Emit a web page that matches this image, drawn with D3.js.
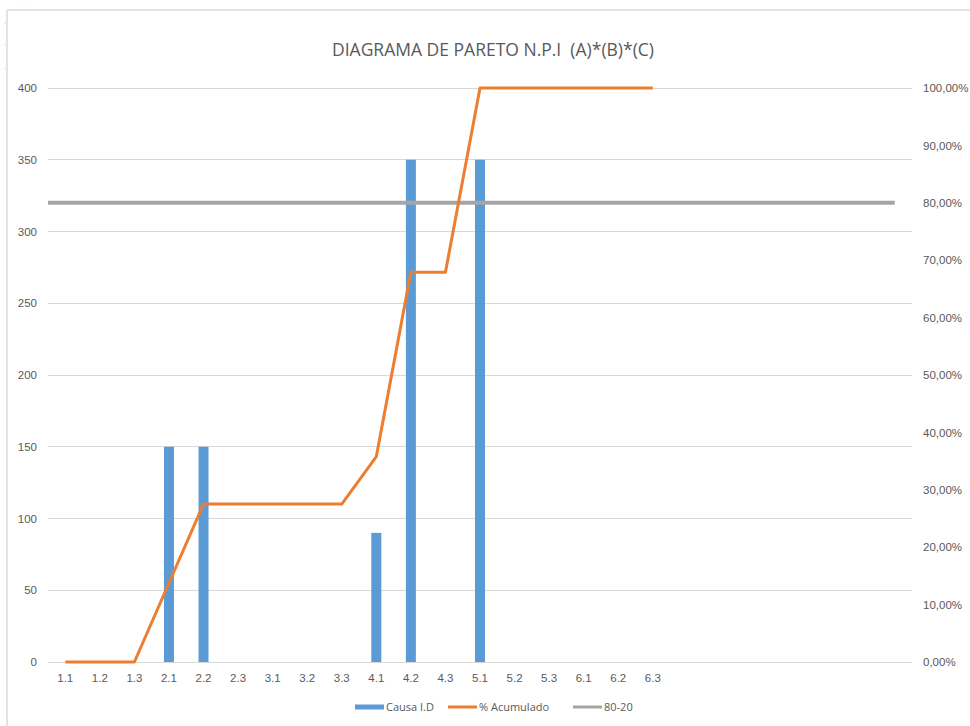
<!DOCTYPE html>
<html>
<head>
<meta charset="utf-8">
<script src="https://cdn.jsdelivr.net/npm/d3@7"></script>
<style>
  html, body { margin: 0; padding: 0; background: #fff; }
  svg { display: block; font-family: "Open Sans", "Liberation Sans", sans-serif; }
</style>
</head>
<body>
<svg id="chart" width="970" height="726"></svg>
<script>
// Category labels (the last seven slots of the axis are blank)
const categories = ["1.1","1.2","1.3","2.1","2.2","2.3","3.1","3.2","3.3",
                    "4.1","4.2","4.3","5.1","5.2","5.3","6.1","6.2","6.3",
                    "","","","","","",""];
// Causa I.D (bars)
const causaValues = [0,0,0,150,150,0,0,0,0,90,350,0,350,0,0,0,0,0];
// % Acumulado (line, percent)
const acumulado = [0,0,0,13.76,27.52,27.52,27.52,27.52,27.52,35.78,67.89,67.89,
                   100,100,100,100,100,100];
// 80-20 reference (percent, every slot)
const ref8020 = [80,80,80,80,80,80,80,80,80,80,80,80,80,80,80,80,80,80,80,80,80,80,80,80,80];
const leftTicks = [0,50,100,150,200,250,300,350,400];
const rightTicks = [0,10,20,30,40,50,60,70,80,90,100];
const title = "DIAGRAMA DE PARETO N.P.I  (A)*(B)*(C)";

const svg = d3.select("#chart");
const plot = { left: 48, right: 912, top: 88, bottom: 662 };
const txt = "#595959";

// Outer sheet edge lines
const edge = svg.append("g").attr("stroke", "#e3e3e3").attr("fill", "none");
edge.append("line").attr("x1", 7).attr("x2", 970).attr("y1", 10).attr("y2", 10).attr("stroke-width", 2);
edge.append("line").attr("x1", 7).attr("x2", 7).attr("y1", 10).attr("y2", 726).attr("stroke-width", 2);
[23, 45, 69].forEach(y => edge.append("line").attr("x1", 4).attr("x2", 7).attr("y1", y).attr("y2", y));
edge.append("line").attr("x1", 24).attr("x2", 24).attr("y1", 7).attr("y2", 10);

const idx = d3.range(categories.length);
const x = d3.scaleBand().domain(idx).range([plot.left, plot.right]).paddingInner(0).paddingOuter(0);
const xc = i => x(i) + x.bandwidth() / 2;
const yL = d3.scaleLinear().domain([0, 400]).range([plot.bottom, plot.top]);
const yR = d3.scaleLinear().domain([0, 100]).range([plot.bottom, plot.top]);
const xRef = d3.scalePoint().domain(idx).range([plot.left, xc(categories.length - 1)]);

// Gridlines
svg.append("g").selectAll("line").data(leftTicks).join("line")
  .attr("x1", plot.left).attr("x2", plot.right)
  .attr("y1", d => yL(d)).attr("y2", d => yL(d))
  .attr("stroke", "#d9d9d9").attr("stroke-width", 1).attr("shape-rendering", "crispEdges");

// Left axis labels
const leftAxis = d3.axisLeft(yL).tickValues(leftTicks).tickSize(0).tickPadding(0);
const gL = svg.append("g").attr("transform", "translate(37,0)").call(leftAxis);
gL.select(".domain").remove();
gL.selectAll("text").attr("fill", txt).style("font-size", "11.5px").style("font-family", "inherit");

// Right axis labels
const fmtPct = d => d3.format(".2f")(d).replace(".", ",") + "%";
const rightAxis = d3.axisRight(yR).tickValues(rightTicks).tickSize(0).tickPadding(0).tickFormat(fmtPct);
const gR = svg.append("g").attr("transform", "translate(923,0)").call(rightAxis);
gR.select(".domain").remove();
gR.selectAll("text").attr("fill", txt).style("font-size", "11.5px").style("font-family", "inherit");

// Category axis labels
const bottomAxis = d3.axisBottom(x).tickSize(0).tickPadding(0).tickFormat(i => categories[i]);
const gB = svg.append("g").attr("transform", `translate(0,${plot.bottom + 12})`).call(bottomAxis);
gB.select(".domain").remove();
gB.selectAll("text").attr("fill", txt).style("font-size", "11.5px").style("font-family", "inherit");

// Bars
const barW = 10;
svg.append("g").selectAll("rect").data(causaValues).join("rect")
  .attr("x", (d, i) => xc(i) - barW / 2)
  .attr("width", barW)
  .attr("y", d => yL(d))
  .attr("height", d => plot.bottom - yL(d))
  .attr("fill", "#5b9bd5");

// 80-20 line
svg.append("path").datum(ref8020)
  .attr("d", d3.line().x((d, i) => xRef(i)).y(d => yR(d)))
  .attr("fill", "none").attr("stroke", "#a5a5a5").attr("stroke-width", 4);

// Cumulative percent line
svg.append("path").datum(acumulado)
  .attr("d", d3.line().x((d, i) => xc(i)).y(d => yR(d)))
  .attr("fill", "none").attr("stroke", "#ed7d31").attr("stroke-width", 3)
  .attr("stroke-linejoin", "round");

// Title
svg.append("text").attr("x", 493).attr("y", 56).attr("text-anchor", "middle")
  .attr("fill", txt).style("font-size", "17.5px").style("white-space", "pre")
  .attr("xml:space", "preserve").text(title);

// Legend
const legend = [
  { label: "Causa I.D", color: "#5b9bd5", w: 5, x: 355 },
  { label: "% Acumulado", color: "#ed7d31", w: 3, x: 448 },
  { label: "80-20", color: "#a5a5a5", w: 3, x: 573 }
];
const lg = svg.append("g");
legend.forEach(l => {
  lg.append("line").attr("x1", l.x).attr("x2", l.x + 29).attr("y1", 707).attr("y2", 707)
    .attr("stroke", l.color).attr("stroke-width", l.w);
  lg.append("text").attr("x", l.x + 31).attr("y", 711).attr("fill", txt)
    .style("font-size", "11px").text(l.label);
});
</script>
</body>
</html>
